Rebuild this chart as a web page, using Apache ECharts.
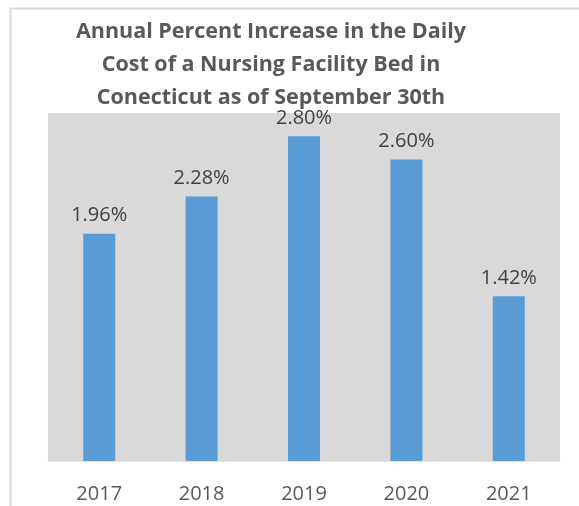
<!DOCTYPE html>
<html>
<head>
<meta charset="utf-8">
<script src="https://cdn.jsdelivr.net/npm/echarts@6/dist/echarts.min.js"></script>
<style>html,body{margin:0;padding:0;background:#fff;}#c{width:579px;height:506px;}</style>
</head>
<body>
<div id="c"></div>
<script>
const categories = ['2017', '2018', '2019', '2020', '2021'];
const values = [1.96, 2.28, 2.80, 2.60, 1.42];
const titleLines = ['Annual Percent Increase in the Daily', 'Cost of a Nursing Facility Bed in', 'Conecticut as of September 30th'];

const chart = echarts.init(document.getElementById('c'), null, {renderer: 'canvas'});
chart.setOption({
  animation: false,
  backgroundColor: '#ffffff',
  graphic: [{
    type: 'rect', left: 8, top: 6, shape: {x: 0, y: 0, width: 600, height: 520},
    style: {fill: 'none', stroke: '#d9d9d9', lineWidth: 2}, z: -1
  }],
  title: {
    text: titleLines.join('\n'),
    left: 266, top: 10, textAlign: 'center',
    textStyle: {fontFamily: 'Open Sans', fontWeight: 'bold', fontSize: 21.5, color: '#595959', lineHeight: 33}
  },
  grid: {left: 48, right: 19, top: 113, bottom: 45, show: true, backgroundColor: '#d9d9d9', borderWidth: 0},
  xAxis: {
    type: 'category', data: categories,
    axisLine: {show: true, lineStyle: {color: '#e3e3e3', width: 1}},
    axisTick: {show: false},
    axisLabel: {fontFamily: 'Open Sans', fontSize: 20, color: '#595959', margin: 23}
  },
  yAxis: {
    type: 'value', min: 0, max: 3, show: false, splitLine: {show: false}
  },
  series: [{
    type: 'bar', data: values, barWidth: 32,
    itemStyle: {color: '#5b9bd5'},
    label: {show: true, position: 'top', distance: 8, formatter: p => p.value.toFixed(2) + '%',
      fontFamily: 'Open Sans', fontSize: 20, color: '#404040'}
  }]
});
</script>
</body>
</html>
